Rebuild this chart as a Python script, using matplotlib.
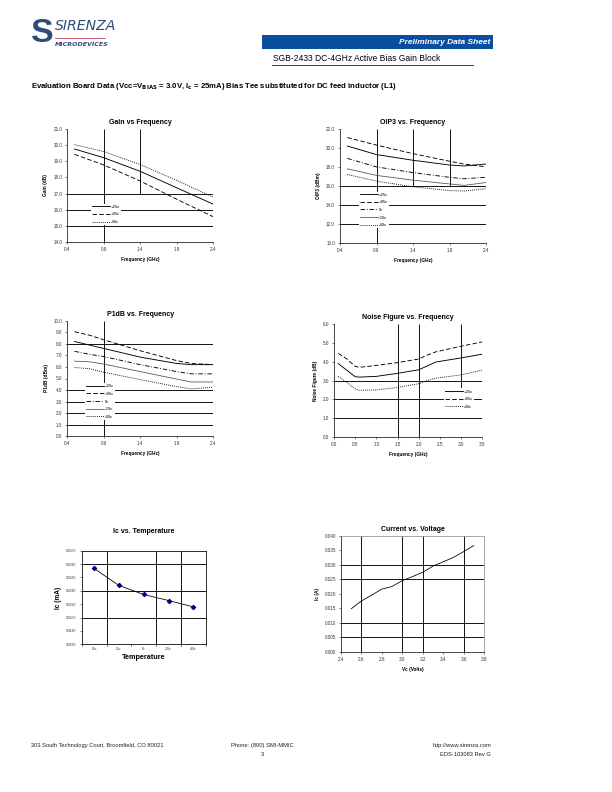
import numpy as np
import matplotlib
matplotlib.use("Agg")
import matplotlib.pyplot as plt

plt.rcParams['font.family'] = ['Liberation Sans', 'DejaVu Sans']

# ---- data ----
gain_freq = [0.5, 0.9, 1.4, 1.9, 2.4]
gain_25 = [19.76, 19.22, 18.38, 17.36, 16.35]
gain_85 = [19.43, 18.77, 17.78, 16.65, 15.57]
gain_m40 = [20.03, 19.60, 18.80, 17.82, 16.78]

oip3_freq = [0.5, 0.9, 1.4, 1.9, 2.1, 2.4]
oip3_25 = [20.2, 19.3, 18.7, 18.2, 18.1, 18.3]
oip3_85 = [21.1, 20.3, 19.4, 18.6, 18.3, 18.0]
oip3_0 = [18.9, 18.0, 17.4, 16.9, 16.75, 16.9]
oip3_m20 = [17.8, 17.1, 16.6, 16.2, 16.05, 16.35]
oip3_m40 = [17.2, 16.5, 15.9, 15.5, 15.45, 15.7]

p1db_freq = [0.5, 0.7, 0.9, 1.4, 1.9, 2.1, 2.4]
p1db_25 = [8.2, 7.9, 7.6, 6.85, 6.3, 6.2, 6.2]
p1db_85 = [9.05, 8.75, 8.35, 7.4, 6.55, 6.3, 6.2]
p1db_0 = [7.35, 7.1, 6.9, 6.2, 5.6, 5.4, 5.4]
p1db_m20 = [6.5, 6.45, 6.25, 5.6, 4.95, 4.7, 4.7]
p1db_m40 = [5.95, 5.85, 5.55, 4.9, 4.3, 4.1, 4.25]

nf_freq = [0.1, 0.3, 0.5, 0.6, 1.0, 1.5, 2.0, 2.2, 2.4, 3.0, 3.5]
nf_25 = [3.9, 3.55, 3.2, 3.18, 3.22, 3.38, 3.57, 3.77, 3.98, 4.2, 4.4]
nf_85 = [4.44, 4.15, 3.75, 3.7, 3.8, 3.95, 4.14, 4.35, 4.52, 4.82, 5.05]
nf_m40 = [3.22, 2.9, 2.55, 2.48, 2.5, 2.63, 2.83, 3.0, 3.12, 3.3, 3.55]

temp_labels = ['85c', '25c', '0c', '-20c', '-40c']
ic_values = [0.02735, 0.02480, 0.02345, 0.02255, 0.02160]

vc_volts = [2.5, 2.6, 2.7, 2.8, 2.87, 2.9, 3.0, 3.1, 3.2, 3.3, 3.4, 3.5, 3.6, 3.7]
ic_amps = [0.0148, 0.0175, 0.0195, 0.0216, 0.0222, 0.0225, 0.0245, 0.0259,
           0.0274, 0.0295, 0.0310, 0.0325, 0.0345, 0.0366]

W, H = 612, 792
fig = plt.figure(figsize=(W / 72, H / 72), dpi=72)


def px_axes(left, right, top, bottom):
    return fig.add_axes([left / W, 1 - bottom / H, (right - left) / W, (bottom - top) / H])


def style_axes(ax, title, xlabel, ylabel):
    ax.set_title(title, fontsize=7, fontweight='bold', pad=5)
    ax.set_xlabel(xlabel, fontsize=4.8, fontweight='bold', labelpad=5)
    ax.set_ylabel(ylabel, fontsize=4.8, fontweight='bold', labelpad=5)
    ax.tick_params(labelsize=4.6, length=2, width=0.6, colors='#333333', pad=3)
    for s in ['top', 'right']:
        ax.spines[s].set_visible(False)
    for s in ['left', 'bottom']:
        ax.spines[s].set_linewidth(0.7)


def legend(ax, x, y):
    lg = ax.legend(loc='upper left', bbox_to_anchor=(x, y), fontsize=4.2, frameon=True,
                   handlelength=4.2, handletextpad=0.2, labelspacing=0.85,
                   borderpad=0.3, borderaxespad=0)
    lg.get_frame().set_facecolor('white')
    lg.get_frame().set_edgecolor('none')
    lg.get_frame().set_alpha(1)
    lg.set_zorder(5)


grid_kw = dict(color='black', lw=0.9, zorder=1)
dash = (0, (5, 2.5))
dashdot = (0, (5, 2, 1, 2))
dot = (0, (1, 1.3))
fmt = matplotlib.ticker.FormatStrFormatter

# ---- Gain vs Frequency ----
ax = px_axes(67.3, 213, 129, 242)
ax.set_xlim(0.4, 2.4)
ax.set_ylim(14, 21)
ax.set_xticks([0.4, 0.9, 1.4, 1.9, 2.4])
ax.set_yticks(np.arange(14, 21.1, 1))
ax.xaxis.set_major_formatter(fmt('%.1f'))
ax.yaxis.set_major_formatter(fmt('%.1f'))
ax.hlines([15, 16, 17], 0.4, 2.4, **grid_kw)
ax.vlines(0.9, 14, 21, **grid_kw)
ax.vlines(1.4, 17, 21, **grid_kw)
ax.plot(gain_freq, gain_25, color='black', lw=0.9, label='+25c', zorder=3)
ax.plot(gain_freq, gain_85, color='black', lw=0.9, ls=dash, label='+85c', zorder=3)
ax.plot(gain_freq, gain_m40, color='black', lw=0.9, ls=dot, label='-40c', zorder=3)
style_axes(ax, 'Gain vs Frequency', 'Frequency (GHz)', 'Gain (dB)')
legend(ax, 0.16, 0.34)

# ---- OIP3 vs Frequency ----
ax = px_axes(340, 486, 129, 242.7)
ax.set_xlim(0.4, 2.4)
ax.set_ylim(10, 22)
ax.set_xticks([0.4, 0.9, 1.4, 1.9, 2.4])
ax.set_yticks(np.arange(10, 22.1, 2))
ax.xaxis.set_major_formatter(fmt('%.1f'))
ax.yaxis.set_major_formatter(fmt('%.1f'))
ax.hlines([12, 14, 16], 0.4, 2.4, **grid_kw)
ax.vlines(0.9, 10, 22, **grid_kw)
ax.vlines([1.4, 1.9], 16, 22, **grid_kw)
ax.plot(oip3_freq, oip3_25, color='black', lw=0.9, label='+25c', zorder=3)
ax.plot(oip3_freq, oip3_85, color='black', lw=0.9, ls=dash, label='+85c', zorder=3)
ax.plot(oip3_freq, oip3_0, color='black', lw=0.9, ls=dashdot, label='0c', zorder=3)
ax.plot(oip3_freq, oip3_m20, color='#555555', lw=0.8, label='-20c', zorder=3)
ax.plot(oip3_freq, oip3_m40, color='black', lw=0.9, ls=dot, label='-40c', zorder=3)
style_axes(ax, 'OIP3 vs. Frequency', 'Frequency (GHz)', 'OIP3 (dBm)')
legend(ax, 0.13, 0.45)

# ---- P1dB vs Frequency ----
ax = px_axes(67.3, 213, 320.7, 436.3)
ax.set_xlim(0.4, 2.4)
ax.set_ylim(0, 10)
ax.set_xticks([0.4, 0.9, 1.4, 1.9, 2.4])
ax.set_yticks(np.arange(0, 10.1, 1))
ax.xaxis.set_major_formatter(fmt('%.1f'))
ax.yaxis.set_major_formatter(fmt('%.1f'))
ax.hlines([1, 2, 3, 4, 8], 0.4, 2.4, **grid_kw)
ax.vlines(0.9, 0, 10, **grid_kw)
ax.plot(p1db_freq, p1db_25, color='black', lw=0.9, label='+25c', zorder=3)
ax.plot(p1db_freq, p1db_85, color='black', lw=0.9, ls=dash, label='+85c', zorder=3)
ax.plot(p1db_freq, p1db_0, color='black', lw=0.9, ls=dashdot, label='0c', zorder=3)
ax.plot(p1db_freq, p1db_m20, color='#555555', lw=0.8, label='-20c', zorder=3)
ax.plot(p1db_freq, p1db_m40, color='black', lw=0.9, ls=dot, label='-40c', zorder=3)
style_axes(ax, 'P1dB vs. Frequency', 'Frequency (GHz)', 'P1dB (dBm)')
legend(ax, 0.12, 0.46)

# ---- Noise Figure vs Frequency ----
ax = px_axes(334, 482.3, 324, 437)
ax.set_xlim(0, 3.5)
ax.set_ylim(0, 6)
ax.set_xticks(np.arange(0, 3.51, 0.5))
ax.set_yticks(np.arange(0, 6.1, 1))
ax.xaxis.set_major_formatter(fmt('%.1f'))
ax.yaxis.set_major_formatter(fmt('%.1f'))
ax.hlines([1, 2, 3], 0, 3.5, **grid_kw)
ax.vlines([1.5, 2.0], 0, 6, **grid_kw)
ax.vlines(3.0, 2.45, 6, **grid_kw)
ax.plot(nf_freq, nf_25, color='black', lw=0.9, label='+25c', zorder=3)
ax.plot(nf_freq, nf_85, color='black', lw=0.9, ls=dash, label='+85c', zorder=3)
ax.plot(nf_freq, nf_m40, color='black', lw=0.9, ls=dot, label='-40c', zorder=3)
style_axes(ax, 'Noise Figure vs. Frequency', 'Frequency (GHz)', 'Noise Figure (dB)')
legend(ax, 0.74, 0.43)

# ---- Ic vs Temperature ----
ax = px_axes(81.7, 205.7, 550.7, 644.3)
cat_x = np.arange(1, len(temp_labels) + 1)
ax.set_xlim(0.5, len(temp_labels) + 0.5)
ax.set_ylim(0.016, 0.030)
ax.set_yticks(np.arange(0.016, 0.03001, 0.002))
ax.yaxis.set_major_formatter(fmt('%.4f'))
ax.set_xticks(cat_x)
ax.set_xticklabels(temp_labels)
ax.set_xticks(np.arange(0.5, len(temp_labels) + 0.6, 1), minor=True)
ax.tick_params(axis='x', which='major', length=0)
ax.tick_params(axis='x', which='minor', length=2, width=0.6)
ax.hlines([0.020, 0.024, 0.028], 0.5, 5.5, **grid_kw)
ax.vlines([1.5, 3.5, 4.5], 0.016, 0.030, **grid_kw)
ax.plot(cat_x, ic_values, color='black', lw=0.8, marker='D', ms=3.2,
        mfc='#000080', mec='#000080', zorder=3)
ax.set_title('Ic vs. Temperature', fontsize=7, fontweight='bold', pad=18)
ax.set_xlabel('Temperature', fontsize=7.2, fontweight='bold', labelpad=3)
ax.set_ylabel('Ic (mA)', fontsize=6.5, fontweight='bold', labelpad=4)
ax.tick_params(axis='both', labelsize=3.4, colors='#333333', pad=3)
ax.tick_params(axis='y', length=2, width=0.6)
for s in ax.spines.values():
    s.set_linewidth(0.8)

# ---- Current vs Voltage ----
ax = px_axes(341, 484, 535.7, 651.7)
ax.set_xlim(2.4, 3.8)
ax.set_ylim(0, 0.040)
ax.set_xticks(np.arange(2.4, 3.81, 0.2))
ax.set_yticks(np.arange(0, 0.0401, 0.005))
ax.xaxis.set_major_formatter(fmt('%.1f'))
ax.yaxis.set_major_formatter(fmt('%.3f'))
ax.hlines([0.005, 0.010, 0.025, 0.030], 2.4, 3.8, **grid_kw)
ax.vlines([2.6, 3.0, 3.2, 3.6], 0, 0.040, **grid_kw)
ax.plot(vc_volts, ic_amps, color='black', lw=0.8, zorder=3)
style_axes(ax, 'Current vs. Voltage', 'Vc (Volts)', 'Ic (A)')
for s in ['top', 'right']:
    ax.spines[s].set_visible(True)
    ax.spines[s].set_color('#888888')
    ax.spines[s].set_linewidth(0.7)

# ---- page furniture ----
def ftext(x, y, s, **kw):
    fig.text(x / W, 1 - y / H, s, **kw)


logo_blue = '#2f4b78'
ftext(31, 34, 'S', fontsize=34, fontweight='bold', color=logo_blue, va='center', ha='left')
ftext(55, 26, 'SIRENZA', fontsize=14, style='italic', color=logo_blue, va='center',
      ha='left', family='Liberation Sans Narrow')
fig.add_artist(plt.Line2D([55 / W, 105 / W], [1 - 38 / H, 1 - 38 / H], color='#c8385a', lw=0.8))
ftext(55, 45, 'MICRODEVICES', fontsize=6.3, fontweight='bold', style='italic',
      color=logo_blue, va='center', ha='left', family='Liberation Sans Narrow')

fig.add_artist(plt.Rectangle((261.5 / W, 1 - 49.3 / H), (492.7 - 261.5) / W, 14.3 / H,
                             color='#0a4ea2', lw=0))
ftext(490, 42.5, 'Preliminary Data Sheet', fontsize=8.4, fontweight='bold', style='italic',
      color='white', va='center', ha='right')
ftext(273, 58.5, 'SGB-2433 DC-4GHz Active Bias Gain Block', fontsize=8.5, color='black',
      va='center', ha='left')
fig.add_artist(plt.Line2D([272 / W, 473 / W], [1 - 65 / H, 1 - 65 / H], color='#0a4ea2', lw=1.0))

ftext(31, 86, 'Evaluation Board Data (Vcc=V$_{\\mathbf{BIAS}}$ = 3.0V, I$_{\\mathbf{c}}$ = 25mA) '
      'Bias Tee substituted for DC feed inductor (L1)', fontsize=7.7, fontweight='bold',
      va='center', ha='left')

ftext(31, 746, '303 South Technology Court, Broomfield, CO 80021', fontsize=5.7,
      va='center', ha='left', color='#222222')
ftext(262, 746, 'Phone: (800) SMI-MMIC', fontsize=5.7, va='center', ha='center', color='#222222')
ftext(262, 754, '3', fontsize=5.7, va='center', ha='center', color='#222222')
ftext(491, 746, 'http://www.sirenza.com', fontsize=5.7, va='center', ha='right', color='#222222')
ftext(491, 754, 'EDS-103083 Rev G', fontsize=5.7, va='center', ha='right', color='#222222')

fig.savefig('out.png', dpi=72)
